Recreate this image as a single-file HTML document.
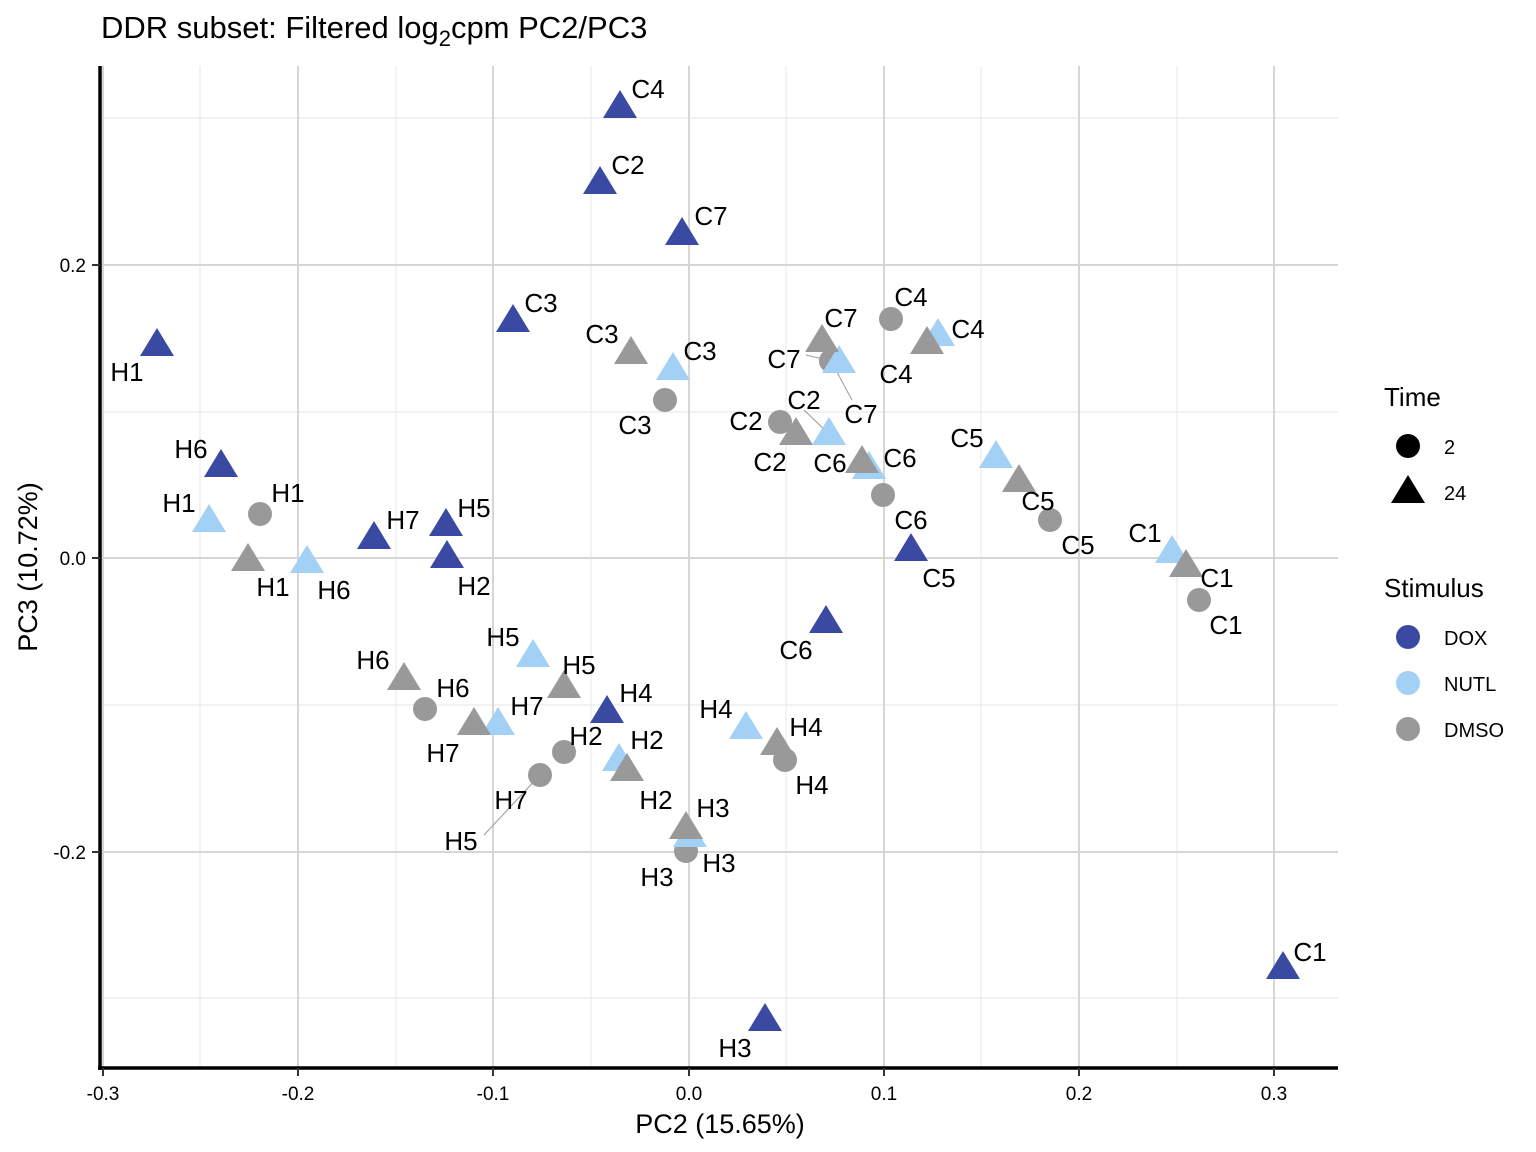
<!DOCTYPE html>
<html><head><meta charset="utf-8"><style>body{margin:0;background:#fff}svg{display:block}text{font-family:"Liberation Sans",Arial,sans-serif}</style></head>
<body>
<svg width="1536" height="1152" viewBox="0 0 1536 1152" xmlns="http://www.w3.org/2000/svg">
<defs>
<polygon id="t" points="0,-17 -17,11 17,11"/>
</defs>
<g stroke="#ebebeb" stroke-width="1.2">
<line x1="200" y1="66" x2="200" y2="1068"/><line x1="396" y1="66" x2="396" y2="1068"/><line x1="591" y1="66" x2="591" y2="1068"/><line x1="786" y1="66" x2="786" y2="1068"/><line x1="981" y1="66" x2="981" y2="1068"/><line x1="1177" y1="66" x2="1177" y2="1068"/>
<line x1="100" y1="118" x2="1338" y2="118"/><line x1="100" y1="412" x2="1338" y2="412"/><line x1="100" y1="705" x2="1338" y2="705"/><line x1="100" y1="998" x2="1338" y2="998"/>
</g>
<g stroke="#d6d6d6" stroke-width="2">
<line x1="103" y1="66" x2="103" y2="1068"/><line x1="298" y1="66" x2="298" y2="1068"/><line x1="493" y1="66" x2="493" y2="1068"/><line x1="689" y1="66" x2="689" y2="1068"/><line x1="884" y1="66" x2="884" y2="1068"/><line x1="1079" y1="66" x2="1079" y2="1068"/><line x1="1274" y1="66" x2="1274" y2="1068"/>
<line x1="100" y1="265" x2="1338" y2="265"/><line x1="100" y1="558" x2="1338" y2="558"/><line x1="100" y1="852" x2="1338" y2="852"/>
</g>
<g stroke="#999" stroke-width="1">
<line x1="484" y1="835" x2="540" y2="775"/><line x1="852" y1="400" x2="831" y2="361"/><line x1="806" y1="355" x2="831" y2="361"/><line x1="804" y1="410" x2="829" y2="434"/>
</g>
<g fill="#999999">
<circle cx="260" cy="514" r="12"/><circle cx="425" cy="709" r="12"/><circle cx="540" cy="775" r="12"/><circle cx="564" cy="752" r="12"/><circle cx="686" cy="851" r="12"/><circle cx="785" cy="760" r="12"/><circle cx="665" cy="400" r="12"/><circle cx="831" cy="361" r="12"/><circle cx="891" cy="319" r="12"/><circle cx="780" cy="422" r="12"/><circle cx="883" cy="495" r="12"/><circle cx="1050" cy="520" r="12"/><circle cx="1199" cy="600" r="12"/>
</g>
<g fill="#a3d0f5">
<use href="#t" x="209" y="521"/><use href="#t" x="307" y="562"/><use href="#t" x="533" y="656"/><use href="#t" x="498" y="724"/><use href="#t" x="619" y="760"/><use href="#t" x="690" y="836"/><use href="#t" x="746" y="728"/><use href="#t" x="673" y="369"/><use href="#t" x="839" y="362"/><use href="#t" x="938" y="335"/><use href="#t" x="829" y="434"/><use href="#t" x="869" y="468"/><use href="#t" x="996" y="457"/><use href="#t" x="1172" y="552"/>
</g>
<g fill="#999999">
<use href="#t" x="248" y="560"/><use href="#t" x="404" y="679"/><use href="#t" x="474" y="724"/><use href="#t" x="564" y="687"/><use href="#t" x="627" y="770"/><use href="#t" x="686" y="828"/><use href="#t" x="777" y="744"/><use href="#t" x="631" y="353"/><use href="#t" x="822" y="341"/><use href="#t" x="927" y="343"/><use href="#t" x="796" y="434"/><use href="#t" x="862" y="462"/><use href="#t" x="1019" y="481"/><use href="#t" x="1186" y="566"/>
</g>
<g fill="#3a4aa3">
<use href="#t" x="620" y="107"/><use href="#t" x="600" y="183"/><use href="#t" x="682" y="234"/><use href="#t" x="513" y="321"/><use href="#t" x="157" y="345"/><use href="#t" x="221" y="466"/><use href="#t" x="374" y="538"/><use href="#t" x="446" y="525"/><use href="#t" x="447" y="557"/><use href="#t" x="911" y="550"/><use href="#t" x="826" y="622"/><use href="#t" x="607" y="712"/><use href="#t" x="765" y="1020"/><use href="#t" x="1283" y="968"/>
</g>
<g font-size="26" text-anchor="middle" fill="#000" dominant-baseline="central">
<text x="648" y="89">C4</text><text x="628" y="165">C2</text><text x="711" y="216">C7</text><text x="541" y="303">C3</text><text x="127" y="372">H1</text><text x="191" y="449">H6</text><text x="403" y="520">H7</text><text x="474" y="508">H5</text><text x="474" y="586">H2</text><text x="939" y="578">C5</text><text x="796" y="650">C6</text><text x="636" y="693">H4</text><text x="735" y="1048">H3</text><text x="1310" y="952">C1</text>
<text x="179" y="503">H1</text><text x="334" y="590">H6</text><text x="503" y="637">H5</text><text x="527" y="706">H7</text><text x="647" y="740">H2</text><text x="719" y="863">H3</text><text x="716" y="709">H4</text><text x="700" y="351">C3</text><text x="784" y="359">C7</text><text x="968" y="329">C4</text><text x="804" y="400">C2</text><text x="830" y="463">C6</text><text x="967" y="438">C5</text><text x="1145" y="533">C1</text>
<text x="273" y="587">H1</text><text x="373" y="660">H6</text><text x="443" y="753">H7</text><text x="579" y="665">H5</text><text x="656" y="800">H2</text><text x="713" y="808">H3</text><text x="806" y="727">H4</text><text x="602" y="334">C3</text><text x="841" y="318">C7</text><text x="896" y="374">C4</text><text x="770" y="462">C2</text><text x="900" y="458">C6</text><text x="1038" y="501">C5</text><text x="1217" y="578">C1</text>
<text x="288" y="493">H1</text><text x="453" y="688">H6</text><text x="511" y="800">H7</text><text x="586" y="736">H2</text><text x="657" y="877">H3</text><text x="812" y="785">H4</text><text x="635" y="425">C3</text><text x="861" y="414">C7</text><text x="911" y="297">C4</text><text x="746" y="421">C2</text><text x="911" y="520">C6</text><text x="1078" y="545">C5</text><text x="1226" y="625">C1</text><text x="461" y="841">H5</text>
</g>
<g stroke="#000" stroke-width="3.5"><line x1="100" y1="66" x2="100" y2="1070"/><line x1="98" y1="1068" x2="1338" y2="1068"/></g>
<g stroke="#333" stroke-width="2">
<line x1="92" y1="265" x2="100" y2="265"/><line x1="92" y1="558" x2="100" y2="558"/><line x1="92" y1="852" x2="100" y2="852"/>
<line x1="103" y1="1068" x2="103" y2="1076"/><line x1="298" y1="1068" x2="298" y2="1076"/><line x1="493" y1="1068" x2="493" y2="1076"/><line x1="689" y1="1068" x2="689" y2="1076"/><line x1="884" y1="1068" x2="884" y2="1076"/><line x1="1079" y1="1068" x2="1079" y2="1076"/><line x1="1274" y1="1068" x2="1274" y2="1076"/>
</g>
<g font-size="19" fill="#000">
<g text-anchor="end"><text x="86" y="272">0.2</text><text x="86" y="565">0.0</text><text x="86" y="859">-0.2</text></g>
<g text-anchor="middle"><text x="103" y="1100">-0.3</text><text x="298" y="1100">-0.2</text><text x="493" y="1100">-0.1</text><text x="689" y="1100">0.0</text><text x="884" y="1100">0.1</text><text x="1079" y="1100">0.2</text><text x="1274" y="1100">0.3</text></g>
</g>
<text x="720" y="1133" font-size="27" text-anchor="middle">PC2 (15.65%)</text>
<text transform="translate(37,567) rotate(-90)" font-size="27" text-anchor="middle">PC3 (10.72%)</text>
<text x="101" y="38" font-size="31">DDR subset: Filtered log<tspan font-size="22" dy="8">2</tspan><tspan dy="-8">cpm PC2/PC3</tspan></text>
<text x="1384" y="406" font-size="26">Time</text>
<circle cx="1408" cy="446" r="12" fill="#000"/><text x="1444" y="454" font-size="20">2</text>
<use href="#t" x="1408" y="492" fill="#000"/><text x="1444" y="500" font-size="20">24</text>
<text x="1384" y="597" font-size="26">Stimulus</text>
<circle cx="1408" cy="637" r="12" fill="#3a4aa3"/><text x="1444" y="645" font-size="20">DOX</text>
<circle cx="1408" cy="683" r="12" fill="#a3d0f5"/><text x="1444" y="691" font-size="20">NUTL</text>
<circle cx="1408" cy="729" r="12" fill="#999999"/><text x="1444" y="737" font-size="20">DMSO</text>
</svg>
</body></html>
